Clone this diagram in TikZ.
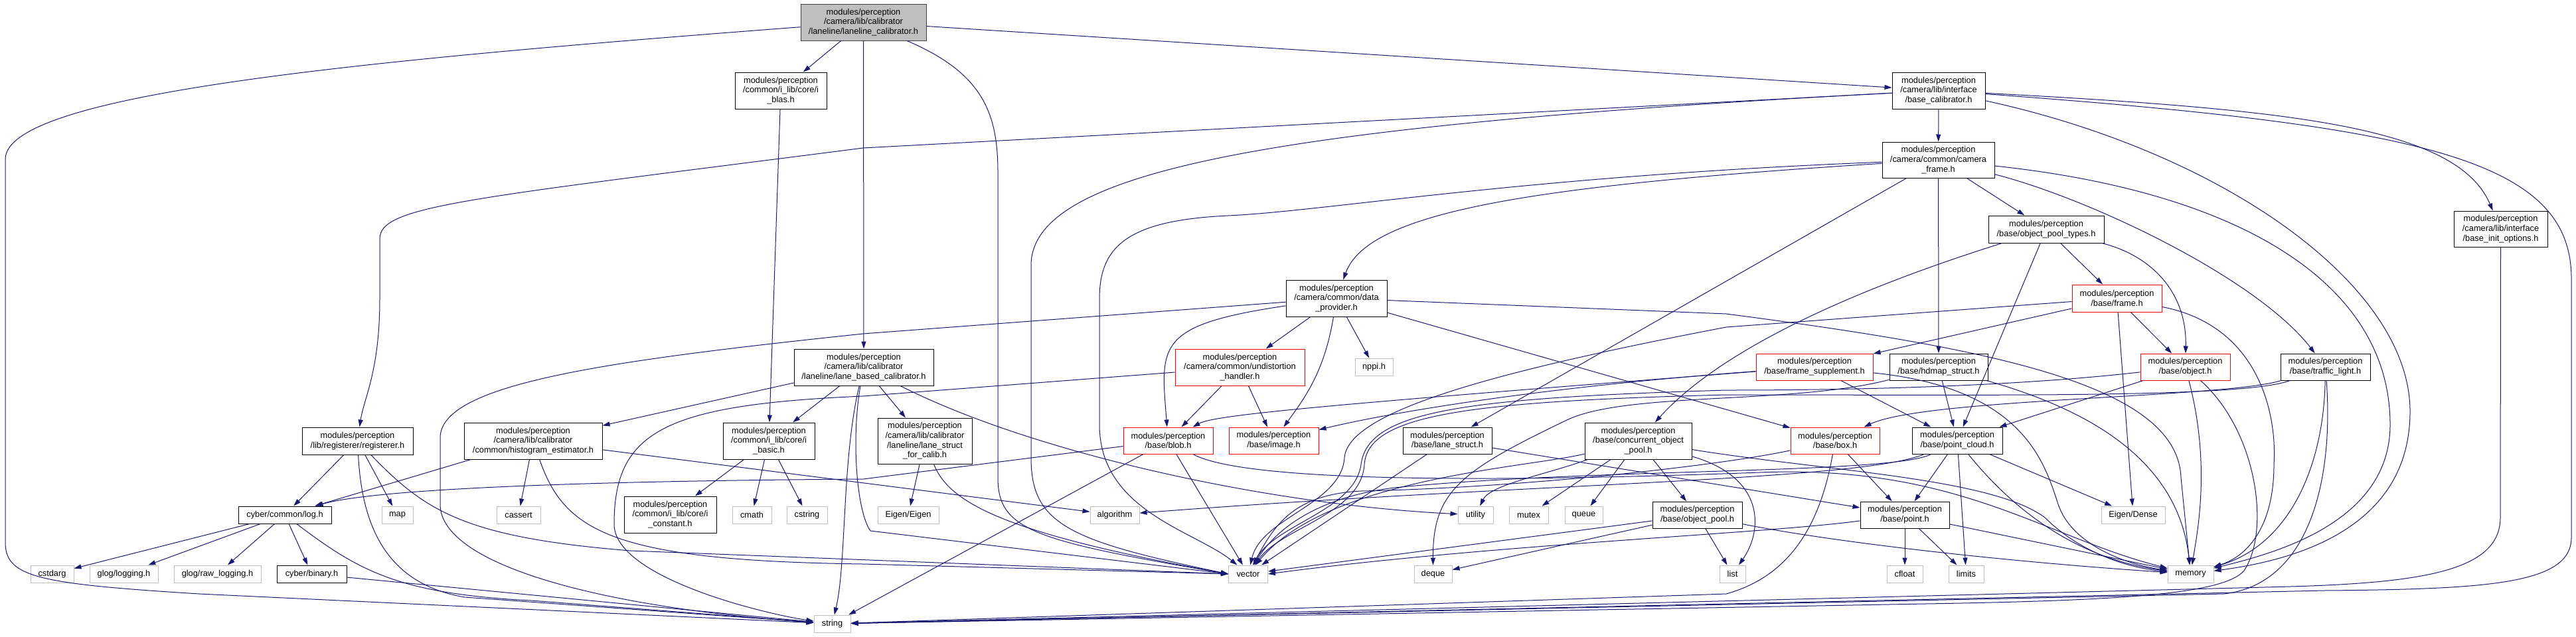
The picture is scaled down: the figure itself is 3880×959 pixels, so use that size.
\documentclass[tikz,border=0pt]{standalone}
\usepackage{fontspec}
\setmainfont{Liberation Sans}
\usetikzlibrary{arrows.meta}
\definecolor{edgeblue}{HTML}{191970}
\definecolor{sysgray}{HTML}{BFBFBF}
\begin{document}
\begin{tikzpicture}[x=1pt, y=-1pt,
  every node/.style={font=\fontsize{12.8}{14.7}\selectfont, align=center, inner sep=0pt, line width=1pt},
  filebox/.style={draw=black, fill=white},
  redbox/.style={draw=red, fill=white},
  sysbox/.style={draw=sysgray, fill=white, minimum height=26pt},
  rootbox/.style={draw=black!75, fill=sysgray},
  dep/.style={draw=edgeblue, line width=1pt, -{Triangle[length=11pt,width=7pt]}}]
\useasboundingbox (0,0) rectangle (3880,959);
% project headers
\node[rootbox, minimum width=189pt, minimum height=55pt] (root) at (1300.5,33.5) {modules/perception\\/camera/lib/calibrator\\/laneline/laneline\_calibrator.h};
\node[filebox, minimum width=138pt, minimum height=55pt] (blas) at (1176,136.5) {modules/perception\\/common/i\_lib/core/i\\\_blas.h};
\node[filebox, minimum width=140pt, minimum height=55pt] (basecal) at (2920,136.5) {modules/perception\\/camera/lib/interface\\/base\_calibrator.h};
\node[filebox, minimum width=169pt, minimum height=54pt] (camframe) at (2919.5,241) {modules/perception\\/camera/common/camera\\\_frame.h};
\node[filebox, minimum width=141pt, minimum height=54pt] (initopt) at (3766.5,345) {modules/perception\\/camera/lib/interface\\/base\_init\_options.h};
\node[filebox, minimum width=152pt, minimum height=55pt] (dataprov) at (2013,449.5) {modules/perception\\/camera/common/data\\\_provider.h};
\node[filebox, minimum width=174pt, minimum height=41pt] (pooltypes) at (3082,345.5) {modules/perception\\/base/object\_pool\_types.h};
\node[redbox, minimum width=135pt, minimum height=41pt] (frame) at (3188.5,449.5) {modules/perception\\/base/frame.h};
\node[filebox, minimum width=210pt, minimum height=55pt] (lanebased) at (1301,553.5) {modules/perception\\/camera/lib/calibrator\\/laneline/lane\_based\_calibrator.h};
\node[redbox, minimum width=195pt, minimum height=55pt] (undist) at (1867.5,553.5) {modules/perception\\/camera/common/undistortion\\\_handler.h};
\node[redbox, minimum width=176pt, minimum height=40pt] (framesup) at (2733,553) {modules/perception\\/base/frame\_supplement.h};
\node[filebox, minimum width=148pt, minimum height=40pt] (hdmap) at (2920,553) {modules/perception\\/base/hdmap\_struct.h};
\node[redbox, minimum width=135pt, minimum height=40pt] (object) at (3291.5,553) {modules/perception\\/base/object.h};
\node[filebox, minimum width=135pt, minimum height=40pt] (traffic) at (3502.5,553) {modules/perception\\/base/traffic\_light.h};
\node[filebox, minimum width=167pt, minimum height=41pt] (registerer) at (538.5,664.5) {modules/perception\\/lib/registerer/registerer.h};
\node[filebox, minimum width=208pt, minimum height=55pt] (histogram) at (803,664.5) {modules/perception\\/camera/lib/calibrator\\/common/histogram\_estimator.h};
\node[filebox, minimum width=138pt, minimum height=55pt] (basic) at (1158,664.5) {modules/perception\\/common/i\_lib/core/i\\\_basic.h};
\node[filebox, minimum width=142pt, minimum height=69pt] (forcalib) at (1393,664.5) {modules/perception\\/camera/lib/calibrator\\/laneline/lane\_struct\\\_for\_calib.h};
\node[redbox, minimum width=135pt, minimum height=40pt] (blob) at (1759.5,664) {modules/perception\\/base/blob.h};
\node[redbox, minimum width=135pt, minimum height=40pt] (image) at (1918.5,664) {modules/perception\\/base/image.h};
\node[filebox, minimum width=134pt, minimum height=40pt] (lanestruct) at (2180,664) {modules/perception\\/base/lane\_struct.h};
\node[filebox, minimum width=161pt, minimum height=55pt] (concpool) at (2467.5,664.5) {modules/perception\\/base/concurrent\_object\\\_pool.h};
\node[redbox, minimum width=134pt, minimum height=40pt] (box) at (2764,664) {modules/perception\\/base/box.h};
\node[filebox, minimum width=136pt, minimum height=40pt] (pointcloud) at (2948,664) {modules/perception\\/base/point\_cloud.h};
\node[filebox, minimum width=140pt, minimum height=26pt] (log) at (429,776) {cyber/common/log.h};
\node[filebox, minimum width=139pt, minimum height=55pt] (constant) at (1009.5,775.5) {modules/perception\\/common/i\_lib/core/i\\\_constant.h};
\node[filebox, minimum width=135pt, minimum height=40pt] (objpool) at (2556.5,776) {modules/perception\\/base/object\_pool.h};
\node[filebox, minimum width=134pt, minimum height=40pt] (point) at (2869,776) {modules/perception\\/base/point.h};
\node[filebox, minimum width=105pt, minimum height=26pt] (binary) at (469.5,865) {cyber/binary.h};
% system headers
\foreach \n/\t/\x/\y/\w in {nppi/nppi.h/2069.5/553/57, map/map/598.5/776/47, cassert/cassert/781/776/66,
  cmath/cmath/1132.5/776/59, cstring/cstring/1215.5/776/61, algorithm/algorithm/1679/776/74,
  utility/utility/2222.5/776/53, mutex/mutex/2302.5/776/59, queue/queue/2385.5/776/57,
  cstdarg/cstdarg/78.5/865/65, vector/vector/1880/865/59, deque/deque/2158.5/865/57,
  list/list/2609.5/865/39, cfloat/cfloat/2869/865/54, limits/limits/2961.5/865/53,
  memory/memory/3299.5/865/69, string/string/1253.5/940/55}
  \node[sysbox, minimum width=\w pt] (\n) at (\x,\y) {\t};
\node[sysbox, minimum width=92pt] (eigen) at (1368,776) {Eigen/Eigen};
\node[sysbox, minimum width=96pt] (eigendense) at (3213,776) {Eigen/Dense};
\node[sysbox, minimum width=103pt] (glog) at (186.5,865) {glog/logging.h};
\node[sysbox, minimum width=131pt] (rawlog) at (327.5,865) {glog/raw\_logging.h};
% short includes
\foreach \a/\b in {root/blas, root/lanebased, root/basecal, basecal/camframe, camframe/lanestruct,
  camframe/hdmap, camframe/pooltypes, blas/basic, lanebased/histogram, lanebased/basic,
  lanebased/forcalib, dataprov/undist, dataprov/nppi, dataprov/box, undist/blob, undist/image,
  basic/constant, basic/cmath, basic/cstring, histogram/log, histogram/cassert, histogram/algorithm,
  registerer/log, registerer/map, log/cstdarg, log/glog, log/rawlog, log/binary, binary/string,
  forcalib/eigen, blob/vector, blob/string, lanestruct/vector, lanestruct/point, concpool/mutex,
  concpool/queue, concpool/objpool, objpool/list, objpool/deque, objpool/vector, pooltypes/frame,
  pooltypes/pointcloud, frame/framesup, frame/object, frame/eigendense, framesup/pointcloud,
  hdmap/pointcloud, object/pointcloud, box/point, pointcloud/point, pointcloud/limits,
  pointcloud/eigendense, point/cfloat, point/limits, point/memory}
  \draw[dep] (\a) -- (\b);
% long includes
\draw[dep] (root) .. controls (560,90) and (8,140) .. (8,240) -- (8,820) .. controls (10,870) and (60,880) .. (300,895) -- (string);
\draw[dep] (root) .. controls (1480,110) and (1503,170) .. (1503,260) -- (1503,720) .. controls (1503,800) and (1560,815) .. (vector.west);
\draw[dep] (basecal) -- (1300,223) .. controls (700,300) and (572,310) .. (572,360) -- (572,450) .. controls (572,560) and (548,600) .. (registerer);
\draw[dep] (basecal) .. controls (1900,190) and (1553,260) .. (1553,400) -- (1553,690) .. controls (1553,790) and (1610,815) .. (vector.west);
\draw[dep] (basecal) .. controls (3450,165) and (3700,190) .. (initopt);
\draw[dep] (basecal) .. controls (3650,190) and (3873,240) .. (3873,420) -- (3873,810) .. controls (3873,880) and (3750,888) .. (3500,890) -- (string);
\draw[dep] (basecal) .. controls (3350,230) and (3630,430) .. (3630,620) .. controls (3630,800) and (3450,845) .. (memory);
\draw[dep] (initopt) -- (3766,780) .. controls (3766,860) and (3650,878) .. (3450,884) -- (string);
\draw[dep] (camframe) .. controls (2300,280) and (2060,320) .. (dataprov);
\draw[dep] (camframe) .. controls (2300,265) and (2000,318) .. (1850,325) .. controls (1700,332) and (1656,370) .. (1656,450) -- (1656,640) .. controls (1656,770) and (1800,800) .. (vector);
\draw[dep] (camframe) .. controls (3150,300) and (3400,420) .. (traffic);
\draw[dep] (camframe) .. controls (3380,290) and (3600,430) .. (3600,640) .. controls (3600,790) and (3420,835) .. (memory);
\draw[dep] (dataprov) -- (1300,503) .. controls (900,545) and (663,580) .. (663,660) -- (663,760) .. controls (663,850) and (900,915) .. (string);
\draw[dep] (dataprov) .. controls (1740,490) and (1748,520) .. (blob);
\draw[dep] (dataprov) .. controls (1995,560) and (1965,600) .. (image);
\draw[dep] (dataprov) -- (2600,473) .. controls (3000,525) and (3280,580) .. (3285,720) -- (memory);
\draw[dep] (undist) -- (1300,597) .. controls (1000,610) and (925,650) .. (925,790) .. controls (925,870) and (1150,925) .. (string);
\draw[dep] (lanebased) .. controls (1282,660) and (1290,770) .. (1311,800) -- (vector.west);
\draw[dep] (lanebased) .. controls (1268,690) and (1275,850) .. (string);
\draw[dep] (lanebased) .. controls (1550,680) and (1900,760) .. (utility);
\draw[dep] (histogram) .. controls (850,800) and (920,845) .. (1300,850) -- (vector.west);
\draw[dep] (registerer) .. controls (545,790) and (580,880) .. (700,900) -- (string);
\draw[dep] (registerer) .. controls (640,770) and (700,810) .. (950,830) -- (vector.west);
\draw[dep] (log) .. controls (540,860) and (600,895) .. (800,905) -- (string);
\draw[dep] (forcalib) .. controls (1430,760) and (1520,805) .. (vector.west);
\draw[dep] (blob) -- (1300,722) .. controls (850,725) and (560,738) .. (log);
\draw[dep] (blob) .. controls (1880,730) and (2300,725) .. (2650,712) .. controls (2950,700) and (3080,810) .. (memory);
\draw[dep] (framesup) .. controls (2000,610) and (1830,625) .. (blob);
\draw[dep] (framesup) .. controls (2300,585) and (2080,625) .. (image);
\draw[dep] (framesup) .. controls (3050,585) and (3080,700) .. (3100,760) .. controls (3120,820) and (3200,850) .. (memory);
\draw[dep] (pooltypes) .. controls (2750,450) and (2580,540) .. (concpool);
\draw[dep] (pooltypes) .. controls (3240,385) and (3294,440) .. (object);
\draw[dep] (frame) -- (2600,493) .. controls (2250,560) and (2030,620) .. (2025,690) .. controls (2020,760) and (1900,780) .. (vector);
\draw[dep] (frame) .. controls (3400,490) and (3430,620) .. (3425,700) .. controls (3425,800) and (3380,840) .. (memory);
\draw[dep] (hdmap) .. controls (2700,610) and (2450,590) .. (2360,633) .. controls (2200,710) and (2158,740) .. (deque);
\draw[dep] (hdmap) .. controls (3120,610) and (3280,680) .. (memory);
\draw[dep] (object) .. controls (3100,575) and (2900,588) .. (2600,588) .. controls (2200,600) and (2060,620) .. (2050,700) .. controls (2040,770) and (1920,790) .. (vector);
\draw[dep] (object) .. controls (3330,700) and (3310,800) .. (memory);
\draw[dep] (object) .. controls (3400,650) and (3420,800) .. (3380,860) .. controls (3350,895) and (3200,905) .. (2900,910) -- (string);
\draw[dep] (traffic) .. controls (3380,600) and (3000,595) .. (2600,595) .. controls (2210,605) and (2060,625) .. (2055,700) .. controls (2050,775) and (1930,795) .. (vector);
\draw[dep] (traffic) .. controls (3350,600) and (2900,600) .. (box);
\draw[dep] (traffic) .. controls (3500,700) and (3450,820) .. (memory);
\draw[dep] (traffic) .. controls (3515,720) and (3480,880) .. (3350,895) -- (string);
\draw[dep] (box) .. controls (2600,700) and (2300,735) .. (2050,740) .. controls (1950,745) and (1920,790) .. (vector);
\draw[dep] (box) .. controls (2740,800) and (2690,870) .. (2600,895) -- (string);
\draw[dep] (pointcloud) .. controls (2850,715) and (2400,705) .. (2100,735) .. controls (1980,750) and (1920,800) .. (vector);
\draw[dep] (pointcloud) .. controls (2800,725) and (2300,728) .. (algorithm);
\draw[dep] (pointcloud) .. controls (3050,790) and (3150,845) .. (memory);
\draw[dep] (point) .. controls (2650,805) and (2250,820) .. (vector.east);
\draw[dep] (concpool) .. controls (2300,705) and (2000,720) .. (vector);
\draw[dep] (concpool) .. controls (2330,715) and (2245,730) .. (utility);
\draw[dep] (concpool) .. controls (2660,720) and (2655,800) .. (list);
\draw[dep] (concpool) .. controls (2750,710) and (3000,720) .. (3080,780) .. controls (3130,830) and (3200,855) .. (memory);
\draw[dep] (objpool) .. controls (2750,815) and (3000,845) .. (memory);
\end{tikzpicture}
\end{document}
